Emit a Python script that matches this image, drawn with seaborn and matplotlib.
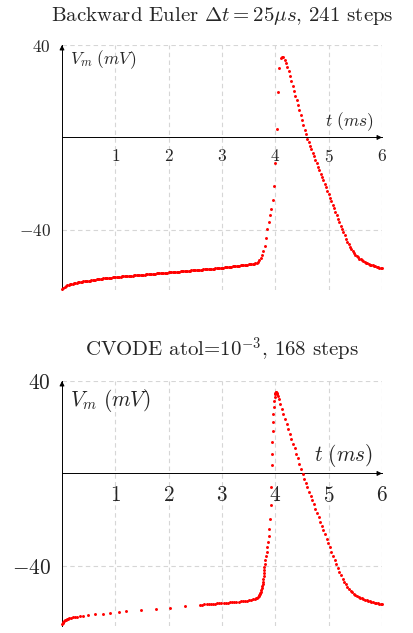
import numpy as np
import pandas as pd
import matplotlib
matplotlib.use("Agg")
import matplotlib.pyplot as plt
import seaborn as sns

# Backward Euler run: fixed step of 25 us, 241 samples
dt_be = 0.025
n_be = 241
v_be = [
    # 0 .. 0.4 ms
    -65.6, -65.0, -64.6, -64.3, -64.0, -63.8, -63.6, -63.4, -63.2, -63.0,
    -62.9, -62.8, -62.7, -62.6, -62.5, -62.4, -62.3,
    # 0.425 .. 1.0 ms
    -62.2, -62.1, -62.0, -61.95, -61.9, -61.8, -61.7, -61.6, -61.5, -61.45,
    -61.4, -61.3, -61.2, -61.1, -61.0, -60.95, -60.9, -60.8, -60.7, -60.65,
    -60.6, -60.5, -60.45, -60.4,
    # 1.025 .. 2.0 ms
    -60.35, -60.3, -60.25, -60.2, -60.15, -60.1, -60.05, -60.0, -59.95, -59.9,
    -59.85, -59.8, -59.75, -59.7, -59.65, -59.6, -59.55, -59.5, -59.45, -59.4,
    -59.35, -59.3, -59.25, -59.2, -59.15, -59.1, -59.05, -59.0, -58.95, -58.9,
    -58.85, -58.8, -58.75, -58.7, -58.65, -58.6, -58.55, -58.5, -58.45, -58.4,
    # 2.025 .. 3.0 ms
    -58.35, -58.3, -58.25, -58.2, -58.15, -58.1, -58.05, -58.0, -57.95, -57.9,
    -57.85, -57.8, -57.75, -57.7, -57.65, -57.6, -57.55, -57.5, -57.45, -57.4,
    -57.35, -57.3, -57.25, -57.2, -57.15, -57.1, -57.05, -57.0, -56.95, -56.9,
    -56.85, -56.8, -56.75, -56.7, -56.65, -56.6, -56.55, -56.5, -56.45, -56.4,
    # 3.025 .. 3.6 ms
    -56.3, -56.25, -56.15, -56.1, -56.0, -55.95, -55.9, -55.8, -55.75, -55.65,
    -55.6, -55.5, -55.45, -55.4, -55.3, -55.25, -55.15, -55.1, -55.0, -54.95,
    -54.85, -54.8, -54.7, -54.6,
    # 3.625 .. 4.575 ms (spike)
    -54.45, -54.2, -53.8, -53.2, -52.3, -51.0, -49.2, -46.8, -43.5, -39.8,
    -36.5, -33.5, -31.0, -27.2, -21.0, -11.2, 3.8, 19.7, 29.9, 34.2,
    35.0, 34.6, 33.6, 32.2, 30.5, 28.6, 26.5, 24.4, 22.3, 20.2,
    18.1, 16.0, 13.9, 11.8, 9.7, 7.6, 5.5, 3.4, 1.4,
    # 4.6 .. 6.0 ms
    -0.5, -2.1, -3.7, -5.2, -6.7, -8.2, -9.7, -11.2, -12.7, -14.2,
    -15.7, -17.2, -18.6, -20.1, -21.6, -23.1, -24.6, -26.1, -27.6, -29.1,
    -30.6, -32.1, -33.6, -35.1, -36.6, -38.1, -39.6, -41.0, -42.4, -43.8,
    -45.1, -46.3, -47.4, -48.4, -49.3, -50.1, -50.8, -51.4, -51.9, -52.4,
    -52.8, -53.2, -53.6, -53.9, -54.2, -54.5, -54.8, -55.0, -55.2, -55.4,
    -55.6, -55.8, -56.0, -56.2, -56.4, -56.5, -56.6,
]
t_be = np.arange(n_be) * dt_be

# CVODE run: adaptive steps
t_cv = [
    0.0, 0.01, 0.022, 0.036, 0.052, 0.07, 0.09, 0.112, 0.137, 0.165,
    0.197, 0.235, 0.28, 0.33, 0.40, 0.49, 0.62, 0.76, 0.90, 1.06,
    1.20, 1.48, 1.76, 2.03, 2.31, 2.59, 2.63, 2.67, 2.71, 2.75,
    2.79, 2.83, 2.87, 2.91, 2.95, 2.99, 3.03, 3.07, 3.11, 3.15,
    3.19, 3.23, 3.27, 3.31, 3.35, 3.39, 3.43, 3.47, 3.51, 3.55,
    3.58, 3.61, 3.63, 3.65, 3.67, 3.685, 3.70, 3.71, 3.72, 3.73,
    3.74, 3.748, 3.755, 3.762, 3.768, 3.774, 3.78, 3.785, 3.79, 3.795,
    3.80, 3.805, 3.82, 3.835, 3.85, 3.865, 3.878, 3.89, 3.90, 3.91,
    3.918, 3.93, 3.935, 3.94, 3.948, 3.955, 3.962, 3.97, 3.978, 3.986,
    3.994, 4.002, 4.01, 4.02, 4.03, 4.04, 4.055, 4.07, 4.09, 4.12,
    4.15, 4.18, 4.21, 4.24, 4.27, 4.30, 4.33, 4.36, 4.39, 4.42,
    4.45, 4.48, 4.51, 4.54, 4.57, 4.60, 4.63, 4.66, 4.69, 4.72,
    4.75, 4.78, 4.81, 4.84, 4.87, 4.90, 4.93, 4.96, 4.99, 5.02,
    5.05, 5.08, 5.11, 5.14, 5.17, 5.20, 5.23, 5.26, 5.29, 5.32,
    5.35, 5.38, 5.41, 5.44, 5.47, 5.50, 5.53, 5.56, 5.59, 5.62,
    5.65, 5.68, 5.71, 5.74, 5.77, 5.80, 5.83, 5.86, 5.89, 5.92,
    5.95, 5.98, 6.0,
]
v_cv = [
    -65.0, -64.6, -64.2, -63.9, -63.6, -63.3, -63.1, -62.9, -62.7, -62.5,
    -62.3, -62.1, -61.9, -61.7, -61.5, -61.2, -60.9, -60.7, -60.4, -60.1,
    -59.7, -59.1, -58.5, -58.0, -57.4, -56.8, -56.7, -56.6, -56.55, -56.5,
    -56.4, -56.35, -56.3, -56.2, -56.15, -56.1, -56.0, -55.95, -55.9, -55.8,
    -55.7, -55.65, -55.55, -55.45, -55.35, -55.25, -55.1, -55.0, -54.8, -54.6,
    -54.4, -54.2, -54.0, -53.7, -53.4, -53.1, -52.7, -52.3, -51.8, -51.2,
    -50.5, -49.7, -48.8, -47.8, -46.8, -45.6, -44.4, -43.2, -41.9, -40.5,
    -39.0, -37.5, -35.6, -33.8, -31.9, -29.5, -26.9, -24.1, -19.8, -13.7,
    -6.0, 3.6, 8.6, 13.6, 18.2, 22.2, 25.9, 28.8, 31.2, 33.0,
    34.3, 35.0, 35.3, 35.3, 35.0, 34.4, 33.4, 32.3, 30.2, 28.0,
    25.9, 23.7, 21.6, 19.4, 17.2, 15.1, 12.9, 10.8, 8.6, 6.5,
    4.3, 2.0, -0.4, -2.3, -4.2, -6.0, -7.9, -9.7, -11.6, -13.4,
    -15.3, -17.1, -19.0, -20.8, -22.7, -24.5, -26.4, -28.2, -30.1, -31.9,
    -33.8, -35.6, -37.5, -39.3, -41.0, -42.6, -44.1, -45.5, -46.8, -48.0,
    -49.0, -49.9, -50.7, -51.4, -52.0, -52.5, -53.0, -53.4, -53.8, -54.1,
    -54.4, -54.7, -54.9, -55.1, -55.3, -55.5, -55.7, -55.85, -56.0, -56.15,
    -56.3, -56.45, -56.55,
]

x_ticks = [1, 2, 3, 4, 5, 6]
y_ticks = [-40, 40]

be = pd.DataFrame({"t": t_be, "V": v_be})
cv = pd.DataFrame({"t": t_cv, "V": v_cv})

sns.set_style("white")
plt.rcParams["font.family"] = ["cmr10", "DejaVu Serif"]
plt.rcParams["mathtext.fontset"] = "cm"
plt.rcParams["axes.formatter.use_mathtext"] = True

fig = plt.figure(figsize=(4.14, 6.33), dpi=100)
W, H = 414, 633
ax1 = fig.add_axes([62 / W, 1 - 290 / H, 320 / W, 245 / H])
ax2 = fig.add_axes([62 / W, 1 - 626 / H, 320 / W, 245 / H])


def style_axes(ax, fs, xpad, ylab, xlab):
    ax.set_xlim(0, 6)
    ax.set_ylim(-66, 40)
    ax.spines["top"].set_visible(False)
    ax.spines["right"].set_visible(False)
    ax.spines["left"].set_position(("data", 0))
    ax.spines["bottom"].set_position(("data", 0))
    for s in ("left", "bottom"):
        ax.spines[s].set_color("black")
        ax.spines[s].set_linewidth(0.7)
    ax.set_xticks(x_ticks)
    ax.set_xticklabels([f"${v}$" for v in x_ticks])
    ax.set_yticks(y_ticks)
    ax.set_yticklabels([f"${v}$" for v in y_ticks])
    ax.tick_params(axis="x", length=0, pad=xpad, labelsize=fs)
    ax.tick_params(axis="y", length=4, color="#cccccc", pad=4, labelsize=fs)
    ax.grid(True, color="#d6d6d6", linestyle=(0, (4, 3)), linewidth=0.8)
    ax.set_axisbelow(True)
    # arrow heads on the middle axes
    ax.annotate("", xy=(6.0, 0), xytext=(5.9, 0), annotation_clip=False,
                arrowprops=dict(arrowstyle="-|>", color="black", lw=0.7,
                                shrinkA=0, shrinkB=0, mutation_scale=7))
    ax.annotate("", xy=(0, 40), xytext=(0, 38), annotation_clip=False,
                arrowprops=dict(arrowstyle="-|>", color="black", lw=0.7,
                                shrinkA=0, shrinkB=0, mutation_scale=7))
    ax.set_xlabel("")
    ax.set_ylabel("")
    ax.text(0.15, ylab, r"$V_m\ (mV)$", fontsize=fs, ha="left", va="center")
    ax.text(5.84, xlab, r"$t\ (ms)$", fontsize=fs, ha="right", va="center")


sns.scatterplot(data=be, x="t", y="V", ax=ax1, color="red", s=4.5,
                linewidth=0, clip_on=False, zorder=3)
sns.scatterplot(data=cv, x="t", y="V", ax=ax2, color="red", s=4.5,
                linewidth=0, clip_on=False, zorder=3)

style_axes(ax1, 12.5, 7.5, 33.5, 6.8)
style_axes(ax2, 15.3, 9, 31.6, 7.9)

fig.text(222 / W, 1 - 21 / H, r"Backward Euler $\Delta t = 25\mu s$, 241 steps",
         ha="center", va="baseline", fontsize=15)
fig.text(222 / W, 1 - 357 / H, r"CVODE atol=$10^{-3}$, 168 steps",
         ha="center", va="baseline", fontsize=15)

fig.savefig("out.png", dpi=100)
plt.close(fig)
